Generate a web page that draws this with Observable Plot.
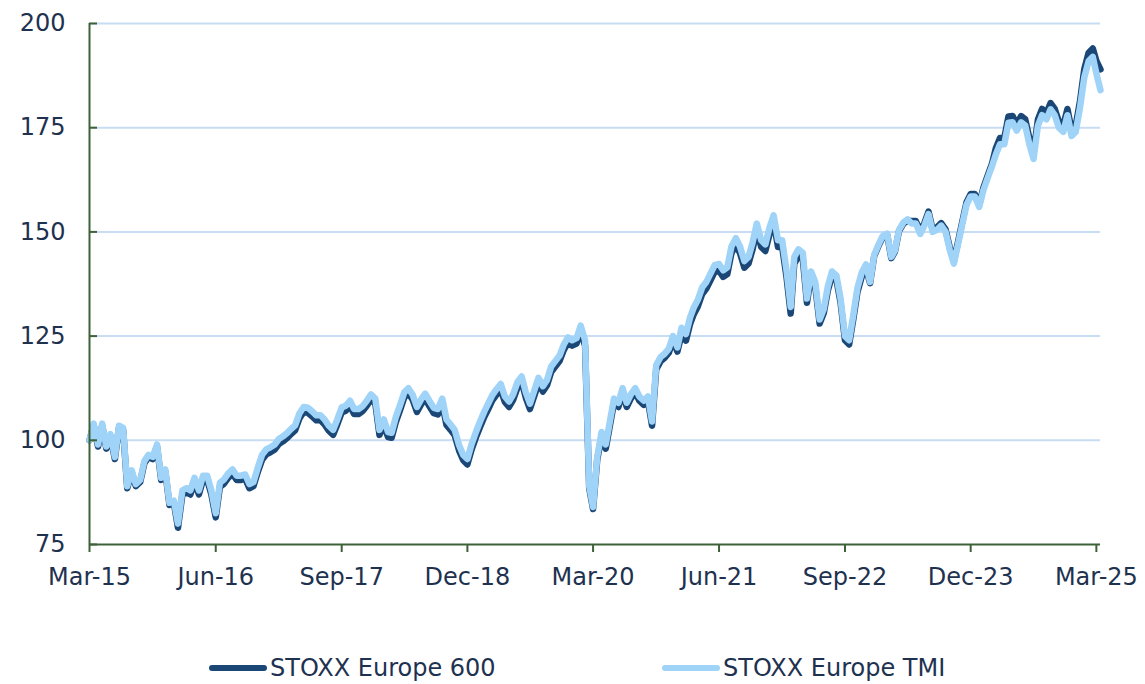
<!DOCTYPE html>
<html>
<head>
<meta charset="utf-8">
<script src="https://cdn.jsdelivr.net/npm/d3@7"></script>
<script src="https://cdn.jsdelivr.net/npm/@observablehq/plot@0.6"></script>
<style>
  body { margin: 0; background: #ffffff; font-family: "DejaVu Sans", sans-serif; }
  #wrap { position: relative; width: 1145px; height: 684px; overflow: hidden; }
  .legend-item { position: absolute; top: 653px; height: 30px; display: flex; align-items: center;
                 font-size: 24px; color: #1e3250; white-space: nowrap; }
  .legend-item svg { display: block; margin-right: 2px; }
</style>
</head>
<body>
<div id="wrap"></div>
<script>
// ---- data (semi-monthly readings: 1st and 16th of each month, Mar-2015 .. Mar-2025) ----
const seriesNames = ["STOXX Europe 600", "STOXX Europe TMI"];
const firstMonth = "2015-03";
const lastMonth = "2025-03";
const daysInMonth = [1, 16];

const stoxx600 = [
  100, 103.5, 98.5, 103.5, 98, 101, 95.5, 103, 102.5, 88.5,
  92.3, 89, 90, 94.5, 96, 95.5, 98.5, 90.5, 92.5, 84.5,
  85, 79, 87, 87.5, 87, 90, 87, 90.5, 90.5, 87,
  81.5, 88.8, 89.6, 91, 92, 90.5, 90.5, 90.8, 88.5, 89,
  92.5, 95.3, 96.6, 97.1, 97.8, 99.1, 99.8, 100.6, 101.5, 102.4,
  105.3, 106.8, 106.6, 105.8, 104.8, 104.8, 103.8, 102.3, 101.3, 103.8,
  106.7, 107.1, 108.3, 106.3, 106.3, 107, 108.3, 109.8, 108.8, 101.3,
  103.8, 100.8, 100.6, 104.3, 107.3, 110.3, 111.3, 109.8, 106.8, 108.6,
  110, 108.2, 106.5, 106.2, 108.7, 103.7, 102.5, 101.2, 97.5, 95.2,
  94.2, 97.7, 100.7, 103.2, 105.7, 107.7, 109.5, 110.9, 112.2, 109.2,
  108, 109.7, 112.7, 114, 110.2, 107.5, 110.7, 113.7, 111.7, 113.2,
  116.4, 117.7, 119.1, 121.7, 123.4, 122.7, 123.2, 126.2, 122.7, 88.5,
  83.5, 95.3, 101, 98, 103.5, 109, 108, 111.5, 108, 110,
  111.5, 109.5, 108.5, 109.5, 103.5, 117, 119, 119.8, 121, 124,
  121.3, 125.4, 123.9, 127.9, 130.2, 132.1, 135.1, 136.4, 138.4, 140.4,
  140.7, 139.2, 139.9, 144.9, 146.9, 144.9, 141.4, 142.4, 145.9, 150.4,
  146.4, 145.4, 149.4, 152.4, 146.4, 146.4, 139.1, 130.4, 142.4, 144.2,
  143.4, 133, 139.5, 137, 128, 130.5, 136, 139.5, 138.5, 133,
  124, 123, 129, 135.5, 139.3, 141.2, 137.7, 144.2, 146.7, 148.7,
  149.3, 143.7, 145.2, 150.2, 152, 152.7, 152.6, 152.6, 150.1, 152.1,
  154.9, 150.6, 151.1, 152.1, 150.6, 146.3, 143, 147.6, 152.6, 157.1,
  159.1, 159.1, 156.6, 160.6, 163.6, 166.3, 170, 172.5, 172.5, 177.7,
  177.8, 175.8, 177.8, 177, 172.5, 169, 177, 179.5, 178.5, 180.9,
  179.5, 176.5, 175.5, 179.5, 174.5, 175.5, 181.5, 189, 193, 194,
  191, 189
];

const stoxxTMI = [
  100, 104, 99, 104, 98.5, 101.5, 96, 103.5, 103, 89,
  92.8, 89.5, 90.5, 95, 96.5, 96, 99, 91, 93, 85,
  85.5, 80, 88, 88.5, 88, 91, 88, 91.5, 91.5, 88,
  82.5, 89.8, 90.6, 92, 93, 91.5, 91.5, 91.8, 89.5, 90,
  93.5, 96.5, 97.8, 98.3, 99, 100.3, 101, 101.8, 102.7, 103.6,
  106.5, 108, 107.8, 107, 106, 106, 105, 103.5, 102.5, 105,
  107.9, 108.3, 109.5, 107.5, 107.5, 108.2, 109.5, 111, 110, 102.5,
  105, 102, 101.8, 105.5, 108.5, 111.5, 112.5, 111, 108, 109.8,
  111.2, 109.5, 107.8, 107.5, 110, 105, 103.8, 102.5, 98.8, 96.5,
  95.5, 99, 102, 104.5, 107, 109, 110.8, 112.2, 113.5, 110.5,
  109.3, 111, 114, 115.3, 111.5, 108.8, 112, 115, 113, 114.5,
  117.7, 119, 120.4, 123, 124.7, 124, 124.5, 127.5, 124, 89,
  84, 96, 102, 99, 104.5, 110, 109, 112.5, 109, 111,
  112.5, 110.5, 109.5, 110.5, 104.5, 118, 120, 120.8, 122, 125,
  122.3, 127, 125.5, 129.5, 131.8, 133.7, 136.7, 138, 140, 142,
  142.3, 140.8, 141.5, 146.5, 148.5, 146.5, 143, 144, 147.5, 152,
  148, 147, 151, 154, 148, 148, 140.7, 132, 144, 145.8,
  145, 134, 140.5, 138, 129, 131.5, 137, 140.5, 139.5, 134,
  125, 124, 130, 136.5, 140.3, 142.2, 138, 144.5, 147, 149,
  149.6, 144, 145.5, 150.5, 152.3, 153, 152, 152, 149.5, 151.5,
  154.3, 150, 150.5, 151.5, 150, 145.7, 142.4, 147, 152, 156.5,
  158.5, 158.5, 156, 160, 163, 165.7, 168.5, 171, 171, 176.2,
  176.3, 174.3, 176.3, 175.5, 171, 167.5, 175.5, 178, 177, 179.4,
  178, 175, 174, 178, 173, 174, 180, 187, 191, 192,
  188, 184
];

const yTicks = [75, 100, 125, 150, 175, 200];
const xTickLabels = ["Mar-15", "Jun-16", "Sep-17", "Dec-18", "Mar-20", "Jun-21", "Sep-22", "Dec-23", "Mar-25"];

// ---- build tables ----
const parseMonth = d3.utcParse("%Y-%m");
const months = d3.utcMonth.range(parseMonth(firstMonth), d3.utcMonth.offset(parseMonth(lastMonth), 1));
const dates = [];
for (const m of months) for (const day of daysInMonth) dates.push(d3.utcDay.offset(m, day - 1));

const table600 = stoxx600.map((v, i) => ({date: dates[i], value: v, series: seriesNames[0]}));
const tableTMI = stoxxTMI.map((v, i) => ({date: dates[i], value: v, series: seriesNames[1]}));

const parseTick = d3.utcParse("%b-%y");
const xTicks = xTickLabels.map(parseTick);
const xStart = dates[0];
const xEnd = dates[Math.max(stoxx600.length, stoxxTMI.length) - 1];

const axisColor = "#3d6238";
const gridColor = "#c8ddf3";
const textColor = "#1e3250";
const darkBlue = "#1b4776";
const lightBlue = "#9fd3f8";

const chart = Plot.plot({
  width: 1145,
  height: 600,
  marginLeft: 89,
  marginRight: 45,
  marginTop: 23,
  marginBottom: 56,
  x: {type: "utc", domain: [xStart, xEnd], label: null},
  y: {domain: [yTicks[0], yTicks[yTicks.length - 1]], label: null},
  style: {fontFamily: "DejaVu Sans, sans-serif", fontSize: "24px", color: textColor, background: "#ffffff", overflow: "visible"},
  marks: [
    Plot.ruleY(yTicks.slice(1), {stroke: gridColor, strokeWidth: 2}),
    Plot.lineY(table600, {x: "date", y: "value", stroke: darkBlue, strokeWidth: 6.5, strokeLinejoin: "round", strokeLinecap: "round"}),
    Plot.lineY(tableTMI, {x: "date", y: "value", stroke: lightBlue, strokeWidth: 6.5, strokeLinejoin: "round", strokeLinecap: "round"}),
    Plot.ruleX([xStart], {y1: yTicks[0], y2: yTicks[yTicks.length - 1], stroke: axisColor, strokeWidth: 2}),
    Plot.ruleY([yTicks[0]], {stroke: axisColor, strokeWidth: 2}),
    Plot.axisY({ticks: yTicks, label: null, tickSize: -8, tickPadding: 32, tickFormat: d => String(d), stroke: axisColor, strokeWidth: 2, fill: textColor}),
    Plot.axisX({ticks: xTicks, label: null, tickSize: 8, tickPadding: 15, tickFormat: d3.utcFormat("%b-%y"), stroke: axisColor, strokeWidth: 2, fill: textColor})
  ]
});

const wrap = document.getElementById("wrap");
wrap.appendChild(chart);

// ---- legend ----
const legendItems = [
  {name: seriesNames[0], color: darkBlue, left: 208},
  {name: seriesNames[1], color: lightBlue, left: 661}
];
for (const item of legendItems) {
  const div = document.createElement("div");
  div.className = "legend-item";
  div.style.left = item.left + "px";
  div.innerHTML = `<svg width="60" height="10"><line x1="4" y1="5" x2="56" y2="5" stroke="${item.color}" stroke-width="6" stroke-linecap="round"/></svg><span>${item.name}</span>`;
  wrap.appendChild(div);
}
</script>
</body>
</html>
